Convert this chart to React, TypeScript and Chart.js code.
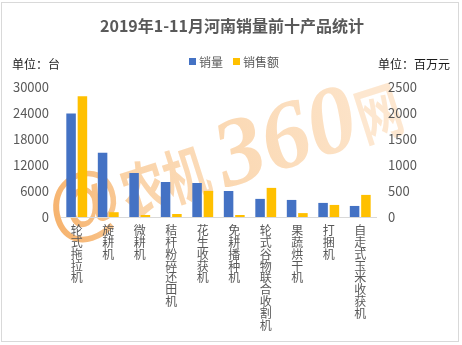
import React, { useEffect, useRef } from "react";
import { Chart, registerables } from "chart.js";

Chart.register(...registerables);

const TITLE = "2019年1-11月河南销量前十产品统计";
const CATEGORIES = [
  "轮式拖拉机",
  "旋耕机",
  "微耕机",
  "秸秆粉碎还田机",
  "花生收获机",
  "免耕播种机",
  "轮式谷物联合收割机",
  "果蔬烘干机",
  "打捆机",
  "自走式玉米收获机",
];
const SERIES_NAMES = ["销量", "销售额"];
const SALES_VOLUME = [23900, 14830, 10150, 8080, 7850, 6000, 4180, 3940, 3250, 2550];
const SALES_AMOUNT = [2320, 92, 38, 58, 502, 38, 560, 75, 232, 425];
const LEFT_TICKS = [0, 6000, 12000, 18000, 24000, 30000];
const RIGHT_TICKS = [0, 500, 1000, 1500, 2000, 2500];
const LEFT_UNIT = "单位：台";
const RIGHT_UNIT = "单位：百万元";
const WATERMARK_PARTS = ["@", "农机", "360", "网"];

const FONT = '"Noto Sans CJK SC", "Liberation Sans", sans-serif';
const W = 462;
const H = 345;

const decorPlugin = {
  id: "decor",
  beforeDraw(chart: any) {
    const ctx: CanvasRenderingContext2D = chart.ctx;
    ctx.save();
    ctx.fillStyle = "#ffffff";
    ctx.fillRect(0, 0, W, H);
    // outer border
    ctx.strokeStyle = "#D9D9D9";
    ctx.lineWidth = 1;
    ctx.strokeRect(1.5, 2.5, 457, 339);

    // watermark
    ctx.save();
    ctx.translate(50, 218);
    ctx.rotate(-0.31);
    const grad = ctx.createLinearGradient(0, 0, 380, 0);
    grad.addColorStop(0, "#F6B26C");
    grad.addColorStop(0.3, "#FAD3A8");
    grad.addColorStop(1, "#FDE7D0");
    ctx.fillStyle = grad;
    ctx.textBaseline = "middle";
    ctx.textAlign = "left";
    let x = 0;
    const styles = [
      { font: 'bold 80px "Liberation Sans"', sx: 0.95, gap: 2 },
      { font: `bold 60px ${FONT}`, sx: 0.74, gap: 12 },
      { font: 'italic bold 96px "Liberation Serif"', sx: 1, gap: 2 },
      { font: `bold 62px ${FONT}`, sx: 0.72, gap: 0 },
    ];
    WATERMARK_PARTS.forEach((t, i) => {
      const st = styles[i];
      ctx.font = st.font;
      const w = ctx.measureText(t).width * st.sx;
      ctx.save();
      ctx.scale(st.sx, 1);
      ctx.fillText(t, x / st.sx, 0);
      ctx.restore();
      x += w + st.gap;
    });
    ctx.restore();

    // title
    ctx.fillStyle = "#595959";
    ctx.font = `bold 16px ${FONT}`;
    ctx.textAlign = "center";
    ctx.textBaseline = "middle";
    ctx.fillText(TITLE, 232, 26);

    // legend
    const colors = ["#4472C4", "#FFC000"];
    const legendX = [189, 233];
    ctx.font = `12px ${FONT}`;
    ctx.textAlign = "left";
    SERIES_NAMES.forEach((name, i) => {
      ctx.fillStyle = colors[i];
      ctx.fillRect(legendX[i], 58, 7, 7);
      ctx.fillStyle = "#595959";
      ctx.fillText(name, legendX[i] + 10, 62);
    });

    // units
    ctx.fillStyle = "#1a1a1a";
    ctx.font = `12px ${FONT}`;
    ctx.textAlign = "left";
    ctx.fillText(LEFT_UNIT, 12, 64);
    ctx.textAlign = "right";
    ctx.fillText(RIGHT_UNIT, 450, 64);
    ctx.restore();
  },
};

const plain = (v: any) => String(v);

export default function App() {
  const ref = useRef<HTMLCanvasElement | null>(null);
  useEffect(() => {
    if (!ref.current) return;
    const chart = new Chart(ref.current, {
      type: "bar",
      data: {
        labels: CATEGORIES.map((c) => Array.from(c)),
        datasets: [
          {
            label: SERIES_NAMES[0],
            data: SALES_VOLUME,
            backgroundColor: "#4472C4",
            yAxisID: "y",
            categoryPercentage: 0.72,
            barPercentage: 0.84,
          },
          {
            label: SERIES_NAMES[1],
            data: SALES_AMOUNT,
            backgroundColor: "#FFC000",
            yAxisID: "y1",
            categoryPercentage: 0.72,
            barPercentage: 0.84,
          },
        ],
      },
      options: {
        responsive: false,
        animation: false,
        layout: { padding: { top: 87, left: 0, right: 0, bottom: 0 } },
        plugins: {
          legend: { display: false },
          title: { display: false },
          tooltip: { enabled: false },
        },
        scales: {
          x: {
            grid: { display: false, drawTicks: false },
            border: { display: true, color: "#D9D9D9", width: 1 },
            ticks: {
              color: "#595959",
              font: { family: FONT, size: 12, lineHeight: 0.98 },
              padding: 8,
              maxRotation: 0,
              minRotation: 0,
              autoSkip: false,
            },
            afterFit: (s: any) => {
              s.height = 128;
            },
          },
          y: {
            position: "left",
            min: LEFT_TICKS[0],
            max: LEFT_TICKS[LEFT_TICKS.length - 1],
            afterBuildTicks: (s: any) => {
              s.ticks = LEFT_TICKS.map((v) => ({ value: v }));
            },
            grid: { display: false, drawTicks: false },
            border: { display: false },
            ticks: {
              color: "#595959",
              font: { family: FONT, size: 13 },
              padding: 12,
              callback: plain,
            },
            afterFit: (s: any) => {
              s.width = 61;
            },
          },
          y1: {
            position: "right",
            min: RIGHT_TICKS[0],
            max: RIGHT_TICKS[RIGHT_TICKS.length - 1],
            afterBuildTicks: (s: any) => {
              s.ticks = RIGHT_TICKS.map((v) => ({ value: v }));
            },
            grid: { display: false, drawTicks: false },
            border: { display: false },
            ticks: {
              color: "#595959",
              font: { family: FONT, size: 13 },
              padding: 12,
              callback: plain,
            },
            afterFit: (s: any) => {
              s.width = 86;
            },
          },
        },
      },
      plugins: [decorPlugin],
    });
    return () => chart.destroy();
  }, []);
  return (
    <div style={{ position: "absolute", left: 0, top: 0, width: W, height: H }}>
      <canvas ref={ref} width={W} height={H} style={{ display: "block" }} />
    </div>
  );
}
